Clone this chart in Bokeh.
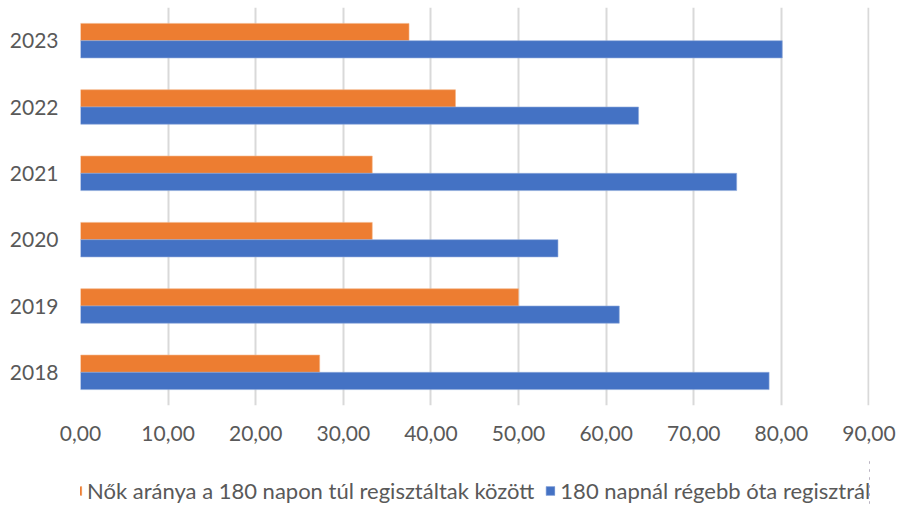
from bokeh.plotting import figure
from bokeh.models import ColumnDataSource, FactorRange, Range1d, Legend, LegendItem, FixedTicker
from bokeh.layouts import column
from bokeh.transform import dodge
from bokeh.embed import file_html
from bokeh.resources import INLINE

years = ["2018", "2019", "2020", "2021", "2022", "2023"]
women_share = [27.3, 50.0, 33.3, 33.3, 42.8, 37.5]
long_term = [78.6, 61.5, 54.5, 74.9, 63.7, 80.1]
x_ticks = [0, 10, 20, 30, 40, 50, 60, 70, 80, 90]
series_names = ["Nők aránya a 180 napon túl regisztáltak között",
                "180 napnál régebb óta regisztrált"]

ORANGE = "#ED7D31"
BLUE = "#4472C4"
TEXT = "#595959"
FONT = "Lato"

src = ColumnDataSource(dict(year=years, women=women_share, longt=long_term))

p = figure(y_range=FactorRange(factors=years, range_padding=0),
           x_range=Range1d(0, 90.06),
           width=905, height=458,
           output_backend="svg", toolbar_location=None,
           min_border_left=80, min_border_right=36, min_border_top=7, min_border_bottom=53)

r1 = p.hbar(y=dodge("year", 0.13, range=p.y_range), left=0, right="women", height=0.26,
            fill_color=ORANGE, line_color="#f4b183", line_width=0.6, source=src)
r2 = p.hbar(y=dodge("year", -0.13, range=p.y_range), left=0, right="longt", height=0.26,
            fill_color=BLUE, line_color="#8faadc", line_width=0.6, source=src)

p.outline_line_color = None
p.ygrid.grid_line_color = None
p.xgrid.grid_line_color = "#d9d9d9"
p.xgrid.grid_line_width = 2

p.xaxis.ticker = FixedTicker(ticks=x_ticks)
p.xaxis.major_label_overrides = {t: f"{t:.2f}".replace(".", ",") for t in x_ticks}
p.xaxis.axis_line_color = None
p.xaxis.major_tick_line_color = None
p.xaxis.major_tick_out = 0
p.xaxis.major_tick_in = 0
p.xaxis.minor_tick_line_color = None
p.xaxis.major_label_standoff = 20
p.xaxis.major_label_text_font = FONT
p.xaxis.major_label_text_font_size = "21px"
p.xaxis.major_label_text_color = TEXT

p.yaxis.axis_line_color = None
p.yaxis.major_tick_line_color = None
p.yaxis.major_tick_out = 0
p.yaxis.major_tick_in = 0
p.yaxis.minor_tick_line_color = None
p.yaxis.major_label_standoff = 22
p.yaxis.major_label_text_font = FONT
p.yaxis.major_label_text_font_size = "21px"
p.yaxis.major_label_text_color = TEXT

# legend strip below the chart (its bars lie outside the strip's visible x range)
pl = figure(width=905, height=48, x_range=Range1d(-2, -1), y_range=FactorRange(factors=years),
            output_backend="svg", toolbar_location=None,
            min_border_left=0, min_border_right=0, min_border_top=0, min_border_bottom=0)
pl.axis.visible = False
pl.grid.grid_line_color = None
pl.outline_line_color = None
k1 = pl.hbar(y="year", left=0, right="women", height=0.26, fill_color=ORANGE,
             line_color="#f4b183", line_width=0.6, source=src)
k2 = pl.hbar(y="year", left=0, right="longt", height=0.26, fill_color=BLUE,
             line_color="#8faadc", line_width=0.6, source=src)

legend = Legend(items=[LegendItem(label=series_names[0], renderers=[k1]),
                       LegendItem(label=series_names[1], renderers=[k2])],
                orientation="horizontal", location="bottom_center",
                label_text_font=FONT, label_text_font_size="22px", label_text_color=TEXT,
                glyph_width=11, glyph_height=11, label_standoff=5, spacing=10,
                padding=0, margin=2, border_line_color=None, background_fill_alpha=0)
pl.add_layout(legend)

layout = column(p, pl, spacing=0)
open("out.html", "w").write(file_html(layout, INLINE))
